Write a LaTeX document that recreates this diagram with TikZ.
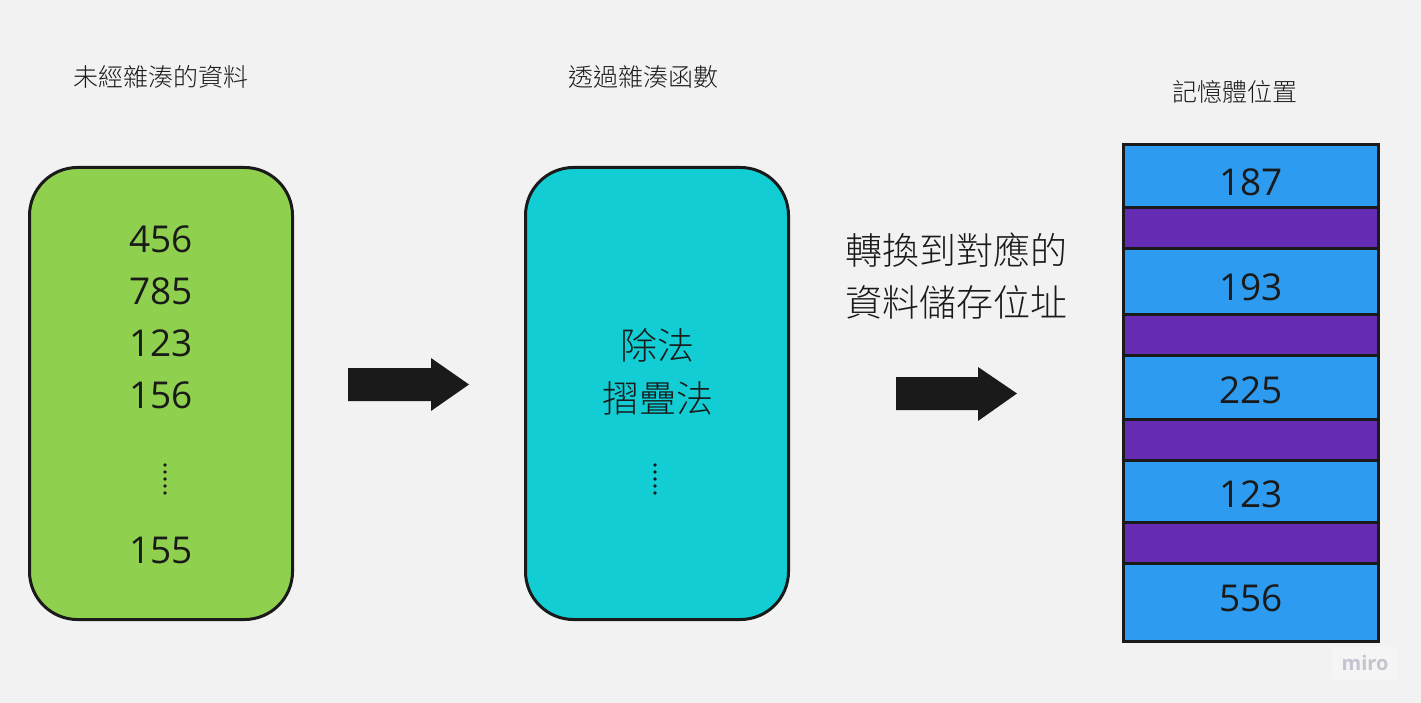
\documentclass[tikz,border=0pt]{standalone}
\usepackage{fontspec}
\setmainfont{Open Sans}
\newfontfamily\cjk{Noto Sans CJK TC Light}
\definecolor{bg}{HTML}{F2F2F2}
\definecolor{ink}{HTML}{1A1A1A}
\definecolor{grn}{HTML}{8FD14F}
\definecolor{cyn}{HTML}{12CDD4}
\definecolor{blu}{HTML}{2D9BF0}
\definecolor{pur}{HTML}{652CB3}
\definecolor{mirogray}{HTML}{C4C4D0}
\definecolor{mirobox}{HTML}{F5F5F5}
\begin{document}
\begin{tikzpicture}[x=1pt,y=-1pt,
  box/.style={draw=ink, line width=3pt, rounded corners=48pt, minimum width=263pt, minimum height=452pt, inner sep=0pt},
  num/.style={text=ink, font=\fontsize{37}{44}\selectfont, inner sep=0pt},
  title/.style={text=ink, font=\cjk\fontsize{25}{30}\selectfont, inner sep=0pt},
  big/.style={text=ink, font=\cjk\fontsize{37}{44}\selectfont, inner sep=0pt},
  cell/.style={draw=ink, line width=3pt},
  bigarrow/.style={fill=ink},
  dot/.style={fill=ink},
]
\fill[bg] (0,0) rectangle (1421,703);
\useasboundingbox (0,0) rectangle (1421,703);

% titles
\node[title] (t1) at (160.5,77) {未經雜湊的資料};
\node[title] (t2) at (643.5,77) {透過雜湊函數};
\node[title] (t3) at (1234.5,92) {記憶體位置};

% green box
\node[box, fill=grn] (raw) at (161,393.5) {};
\node[num] (n1) at (161,239) {456};
\node[num] (n2) at (161,291.5) {785};
\node[num] (n3) at (161,343.5) {123};
\node[num] (n4) at (161,395) {156};
\node[num] (n5) at (161,550) {155};
\foreach \yy in {465,472,479,486,493} \fill[dot] (165,\yy) circle (1.8pt);

% cyan box
\node[box, fill=cyn] (hash) at (657,393.5) {};
\node[big] (h1) at (657,345) {除法};
\node[big] (h2) at (657.5,398) {摺疊法};
\foreach \yy in {465,472,479,486,493} \fill[dot] (655,\yy) circle (1.8pt);

% arrows
\fill[bigarrow] (348,368) -- (431,368) -- (431,358) -- (469,384.5) -- (431,411) -- (431,401) -- (348,401) -- cycle;
\fill[bigarrow] (896,377) -- (978,377) -- (978,367) -- (1017,393.5) -- (978,421) -- (978,410) -- (896,410) -- cycle;

% middle label
\node[big] (m1) at (956,250) {轉換到對應的};
\node[big] (m2) at (956,302) {資料儲存位址};

% memory column
\draw[cell, fill=blu] (1123.5,144.5) rectangle (1378.5,207.5);
\draw[cell, fill=pur] (1123.5,207.5) rectangle (1378.5,248.5);
\draw[cell, fill=blu] (1123.5,248.5) rectangle (1378.5,314);
\draw[cell, fill=pur] (1123.5,314) rectangle (1378.5,355.5);
\draw[cell, fill=blu] (1123.5,355.5) rectangle (1378.5,419);
\draw[cell, fill=pur] (1123.5,419) rectangle (1378.5,460);
\draw[cell, fill=blu] (1123.5,460) rectangle (1378.5,522);
\draw[cell, fill=pur] (1123.5,522) rectangle (1378.5,563);
\draw[cell, fill=blu] (1123.5,563) rectangle (1378.5,641.5);
\node[num] (c1) at (1251,182) {187};
\node[num] (c2) at (1251,287) {193};
\node[num] (c3) at (1251,390) {225};
\node[num] (c4) at (1251,494) {123};
\node[num] (c5) at (1251,598) {556};

% watermark
\fill[mirobox, rounded corners=3pt] (1332,647) rectangle (1398,680);
\node[text=mirogray, font=\bfseries\fontsize{20}{24}\selectfont, inner sep=0pt] (miro) at (1365,663) {miro};
\end{tikzpicture}
\end{document}
